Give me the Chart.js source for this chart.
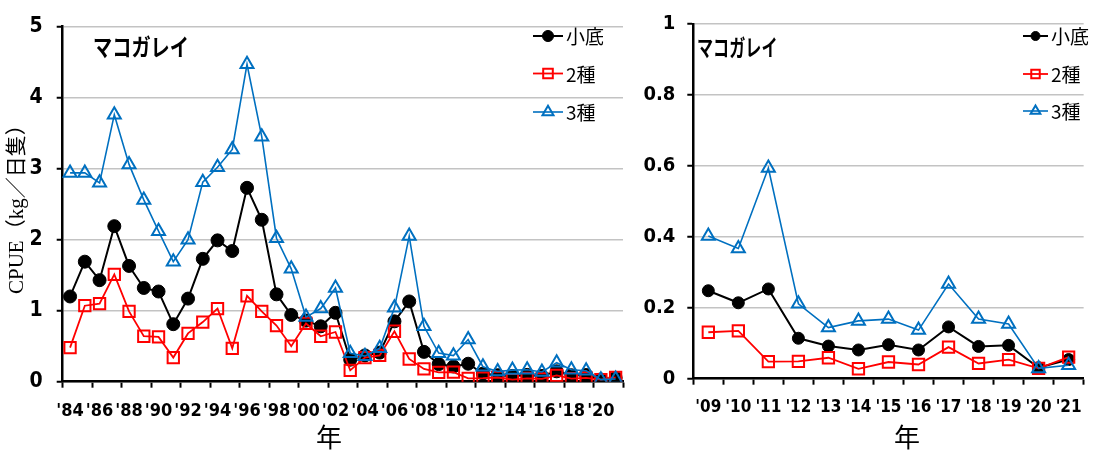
<!DOCTYPE html>
<html>
<head>
<meta charset="utf-8">
<script src="https://cdn.jsdelivr.net/npm/chart.js@4/dist/chart.umd.min.js"></script>
<style>
  html, body { margin: 0; padding: 0; background: #fff; }
  #wrap { position: relative; width: 1095px; height: 455px; overflow: hidden; }
  canvas { position: absolute; top: 0; }
  #longChart { left: 0; }
  #recentChart { left: 640px; }
</style>
</head>
<body>
<div id="wrap">
  <canvas id="longChart" width="640" height="455"></canvas>
  <canvas id="recentChart" width="455" height="455"></canvas>
</div>
<script>
// ---- data ----
const speciesName = 'マコガレイ';
const seriesNames = ['小底', '2種', '3種'];

// fiscal years 1984–2021 (long panel) and 2009–2021 (recent panel)
const longYears = ["'84","'85","'86","'87","'88","'89","'90","'91","'92","'93",
                   "'94","'95","'96","'97","'98","'99","'00","'01","'02","'03",
                   "'04","'05","'06","'07","'08","'09","'10","'11","'12","'13",
                   "'14","'15","'16","'17","'18","'19","'20","'21"];
const recentYears = ["'09","'10","'11","'12","'13","'14","'15","'16","'17","'18","'19","'20","'21"];

// CPUE (kg / boat-day), 1984–2008
const shoteiEarly = [1.20, 1.69, 1.43, 2.19, 1.63, 1.32, 1.27, 0.81, 1.17, 1.73,
                     1.99, 1.84, 2.73, 2.28, 1.23, 0.94, 0.86, 0.78, 0.97, 0.31,
                     0.37, 0.41, 0.85, 1.13, 0.42];
const nishuEarly  = [0.48, 1.07, 1.10, 1.51, 0.99, 0.64, 0.63, 0.34, 0.68, 0.84,
                     1.03, 0.47, 1.21, 0.99, 0.79, 0.50, 0.82, 0.64, 0.70, 0.16,
                     0.34, 0.37, 0.71, 0.32, 0.18];
const sanshuEarly = [2.94, 2.94, 2.80, 3.76, 3.06, 2.56, 2.12, 1.69, 2.00, 2.81,
                     3.02, 3.27, 4.47, 3.45, 2.02, 1.59, 0.91, 1.03, 1.32, 0.40,
                     0.36, 0.47, 1.04, 2.05, 0.78];

// CPUE (kg / boat-day), 2009–2021
const shoteiRecent = [0.248, 0.214, 0.253, 0.114, 0.092, 0.081, 0.096, 0.081, 0.146, 0.091, 0.094, 0.031, 0.054];
const nishuRecent  = [0.131, 0.135, 0.048, 0.049, 0.059, 0.028, 0.047, 0.040, 0.089, 0.043, 0.054, 0.029, 0.061];
const sanshuRecent = [0.402, 0.367, 0.594, 0.211, 0.144, 0.163, 0.168, 0.137, 0.267, 0.168, 0.154, 0.029, 0.038];

const longTicks = [0, 1, 2, 3, 4, 5];
const recentTicks = [0, 0.2, 0.4, 0.6, 0.8, 1];

// ---- styling ----
const TICK_FONT = "'Liberation Sans Narrow', 'DejaVu Sans Condensed', 'Liberation Sans', sans-serif";
const JP_FONT = "'Noto Sans CJK JP', sans-serif";
const SERIF_FONT = "'Liberation Serif', 'Noto Sans CJK JP', serif";
const GRID_GRAY = '#c3c3c3';

function buildDatasets(a, b, c, big) {
  return [
    { label: seriesNames[0], data: a, order: 3,
      borderColor: '#000', backgroundColor: '#000', borderWidth: 2,
      pointStyle: 'circle', pointRadius: big ? 6 : 6.5, pointBorderWidth: 1,
      pointBackgroundColor: '#000', pointBorderColor: '#000', tension: 0 },
    { label: seriesNames[1], data: b, order: 2,
      borderColor: '#ff0000', backgroundColor: '#ff0000', borderWidth: 1.8,
      pointStyle: 'rect', pointRadius: 8, pointBorderWidth: 2,
      pointBackgroundColor: 'rgba(255,255,255,0)', pointBorderColor: '#ff0000', tension: 0 },
    { label: seriesNames[2], data: c, order: 1,
      borderColor: '#0070c0', backgroundColor: '#0070c0', borderWidth: 1.6,
      pointStyle: 'triangle', pointRadius: 7.5, pointBorderWidth: 2,
      pointBackgroundColor: 'rgba(255,255,255,0)', pointBorderColor: '#0070c0', tension: 0 }
  ];
}

// species name, in-plot legend and the 年 caption
const overlayText = {
  id: 'overlayText',
  afterDatasetsDraw(chart, args, o) {
    const ctx = chart.ctx;
    ctx.save();
    ctx.fillStyle = '#000';
    ctx.textBaseline = 'middle';
    ctx.textAlign = 'left';
    ctx.translate(o.nameX, o.nameY);
    ctx.scale(o.nameScaleX, 1);
    ctx.font = 'bold ' + o.nameSize + 'px ' + JP_FONT;
    ctx.fillText(speciesName, 0, 0);
    ctx.restore();

    chart.data.datasets.forEach((ds, i) => {
      const y = o.legendY[i];
      ctx.save();
      ctx.strokeStyle = ds.borderColor;
      ctx.lineWidth = ds.borderWidth;
      ctx.beginPath();
      ctx.moveTo(o.legendX1, y);
      ctx.lineTo(o.legendX2, y);
      ctx.stroke();
      ctx.fillStyle = ds.pointBackgroundColor;
      ctx.strokeStyle = ds.pointBorderColor;
      ctx.lineWidth = ds.pointBorderWidth;
      Chart.helpers.drawPoint(ctx, {
        pointStyle: ds.pointStyle, rotation: 0,
        radius: ds.pointRadius * o.legendMarkScale, borderWidth: ds.pointBorderWidth
      }, (o.legendX1 + o.legendX2) / 2, y);
      ctx.fillStyle = '#000';
      ctx.font = o.legendSize + 'px ' + JP_FONT;
      ctx.textBaseline = 'middle';
      ctx.textAlign = 'left';
      ctx.fillText(ds.label, o.legendX2 + 3, y + 1);
      ctx.restore();
    });

    ctx.save();
    ctx.fillStyle = '#000';
    ctx.font = o.yearSize + 'px ' + JP_FONT;
    ctx.textAlign = 'center';
    ctx.textBaseline = 'middle';
    ctx.fillText('年', o.yearX, o.yearY);
    ctx.restore();
  }
};

function xScale(labels, showEvery, fontSize, height) {
  return {
    type: 'category',
    labels: labels,
    offset: true,
    border: { display: true, color: '#000', width: 2.5 },
    grid: {
      offset: true, drawOnChartArea: false, drawTicks: true,
      tickLength: 6, tickWidth: 2,
      tickColor: (c) => (c.index === undefined || c.index % showEvery === 0) ? '#000' : 'rgba(0,0,0,0)'
    },
    ticks: {
      autoSkip: false, maxRotation: 0, minRotation: 0, padding: 13,
      color: '#000', font: { family: TICK_FONT, size: fontSize, weight: 'bold' },
      callback: (v, i) => (i % showEvery === 0 ? labels[i] : '')
    },
    afterFit: (s) => { s.height = height; }
  };
}

function yScale(tickValues, fontSize, width, padding, title) {
  const cfg = {
    type: 'linear',
    min: tickValues[0],
    max: tickValues[tickValues.length - 1],
    border: { display: true, color: '#000', width: 2.5 },
    grid: { color: GRID_GRAY, lineWidth: 1.5, drawTicks: true, tickLength: 6, tickWidth: 2, tickColor: '#000' },
    afterBuildTicks: (s) => { s.ticks = tickValues.map(v => ({ value: v })); },
    ticks: {
      padding: padding, color: '#000', font: { family: TICK_FONT, size: fontSize, weight: 'bold' },
      callback: (v) => String(Math.round(v * 10) / 10)
    },
    afterFit: (s) => { s.width = width; }
  };
  if (title) {
    cfg.title = { display: true, text: title, color: '#000',
                  font: { family: SERIF_FONT, size: 21 }, padding: { top: 5, bottom: 0 } };
  }
  return cfg;
}

const baseOptions = {
  responsive: false, animation: false, devicePixelRatio: 1
};
const basePlugins = { legend: { display: false }, tooltip: { enabled: false } };

new Chart(document.getElementById('longChart'), {
  type: 'line',
  data: {
    labels: longYears,
    datasets: buildDatasets(shoteiEarly.concat(shoteiRecent),
                            nishuEarly.concat(nishuRecent),
                            sanshuEarly.concat(sanshuRecent), false)
  },
  options: Object.assign({}, baseOptions, {
    layout: { padding: { top: 17.5, right: 17, left: 0, bottom: 0 } },
    scales: {
      x: xScale(longYears, 2, 18, 73.3),
      y: yScale(longTicks, 21, 62.7, 14, 'CPUE（kg／日隻）')
    },
    plugins: Object.assign({}, basePlugins, {
      overlayText: {
        nameX: 93, nameY: 47, nameSize: 24, nameScaleX: 0.8,
        legendX1: 533, legendX2: 563, legendY: [36, 73.5, 112], legendSize: 19, legendMarkScale: 0.85,
        yearX: 329, yearY: 437, yearSize: 26
      }
    })
  }),
  plugins: [overlayText]
});

new Chart(document.getElementById('recentChart'), {
  type: 'line',
  data: {
    labels: recentYears,
    datasets: buildDatasets(shoteiRecent, nishuRecent, sanshuRecent, true)
  },
  options: Object.assign({}, baseOptions, {
    layout: { padding: { top: 17.3, right: 1, left: 0, bottom: 0 } },
    scales: {
      x: xScale(recentYears, 1, 17, 76.3),
      y: yScale(recentTicks, 20, 53.3, 12, null)
    },
    plugins: Object.assign({}, basePlugins, {
      overlayText: {
        nameX: 57, nameY: 47, nameSize: 23, nameScaleX: 0.7,
        legendX1: 383, legendX2: 408, legendY: [36, 74, 111], legendSize: 19, legendMarkScale: 0.75,
        yearX: 267, yearY: 437, yearSize: 26
      }
    })
  }),
  plugins: [overlayText]
});
</script>
</body>
</html>
